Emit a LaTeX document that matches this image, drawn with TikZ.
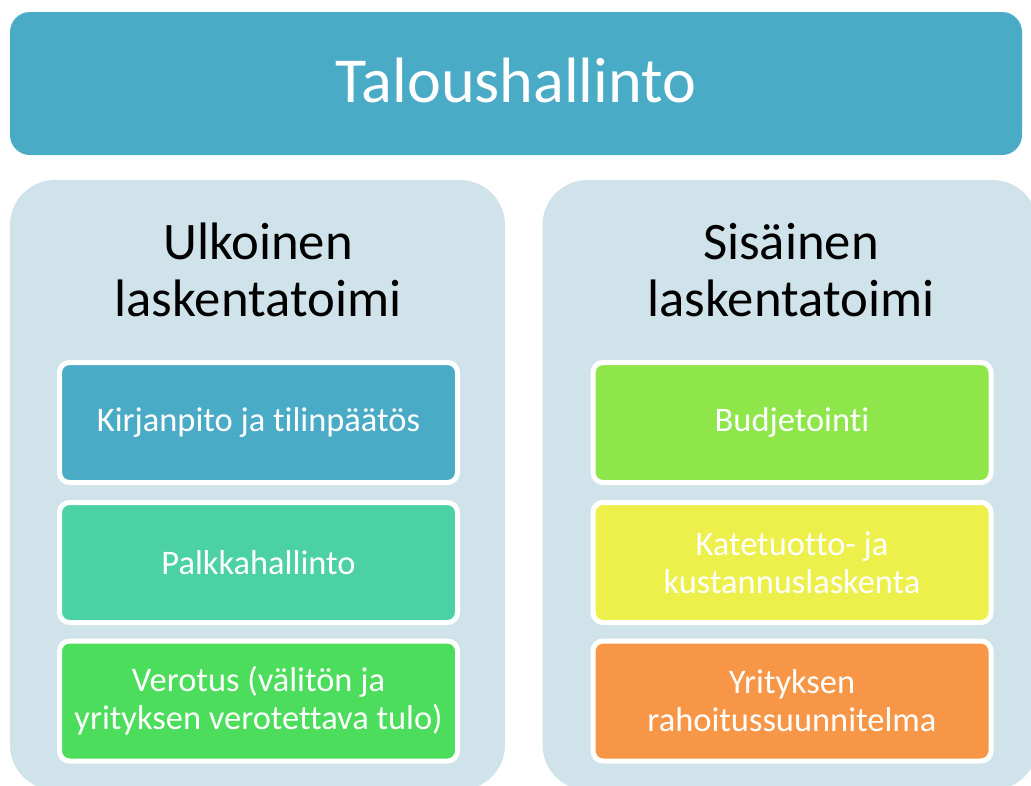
\documentclass[tikz,border=0pt]{standalone}
\usepackage{fontspec}
\setmainfont{Carlito}[Ligatures=NoCommon]
\usepackage{tikz}
\usepackage{color}

\definecolor{sininen}{HTML}{4AABC6}
\definecolor{tausta}{HTML}{D1E3EA}
\definecolor{turkoosi}{HTML}{4BD1A4}
\definecolor{vihrea}{HTML}{4BDD5B}
\definecolor{limetti}{HTML}{8EE64B}
\definecolor{keltainen}{HTML}{EDEF4B}
\definecolor{oranssi}{HTML}{F79646}

\tikzset{
 paneeli/.style={fill=tausta, rounded corners=0.9cm, minimum width=9.9cm, minimum height=12.2cm},
 otsikko/.style={align=center, font=\fontsize{30}{32.5}\selectfont},
 laatikko/.style={draw=white, line width=0.1cm, rounded corners=0.2cm, minimum width=7.96cm,
   minimum height=2.4cm, text=white, align=center, font=\fontsize{19.6}{21.7}\selectfont}
}

\begin{document}
\begin{tikzpicture}
%\draw[help lines=.1] (0,0) grid (21,-16);
 \useasboundingbox (0,0) rectangle (20.62,-15.7);
 \clip (0,0) rectangle (20.62,-15.7);

 \node[fill=sininen, rounded corners=0.4cm, minimum width=20.24cm, minimum height=2.86cm,
   text=white, font=\fontsize{36.5}{44}\selectfont] (talous) at (10.32,-1.67) {};
 \node[text=white, font=\fontsize{36.5}{44}\selectfont] (talousteksti) at (10.32,-1.6) {Taloushallinto};

 \node[paneeli] (ulkoinen) at (5.15,-9.7) {};
 \node[paneeli] (sisainen) at (15.8,-9.7) {};

 \node[otsikko] (ulkootsikko) at (5.16,-5.4) {Ulkoinen\\laskentatoimi};
 \node[otsikko] (sisaotsikko) at (15.82,-5.4) {Sisäinen\\laskentatoimi};

 \node[laatikko, fill=sininen] (kirjanpito) at (5.17,-8.45) {Kirjanpito ja tilinpäätös};
 \node[laatikko, fill=turkoosi] (palkka) at (5.17,-11.25) {Palkkahallinto};
 \node[laatikko, fill=vihrea] (verotus) at (5.17,-14.02) {Verotus (välitön ja\\yrityksen verotettava tulo)};

 \node[laatikko, fill=limetti] (budjetointi) at (15.84,-8.45) {Budjetointi};
 \node[laatikko, fill=keltainen] (katetuotto) at (15.84,-11.25) {Katetuotto- ja\\kustannuslaskenta};
 \node[laatikko, fill=oranssi] (rahoitus) at (15.84,-14.02) {Yrityksen\\rahoitussuunnitelma};

\end{tikzpicture}
\end{document}
